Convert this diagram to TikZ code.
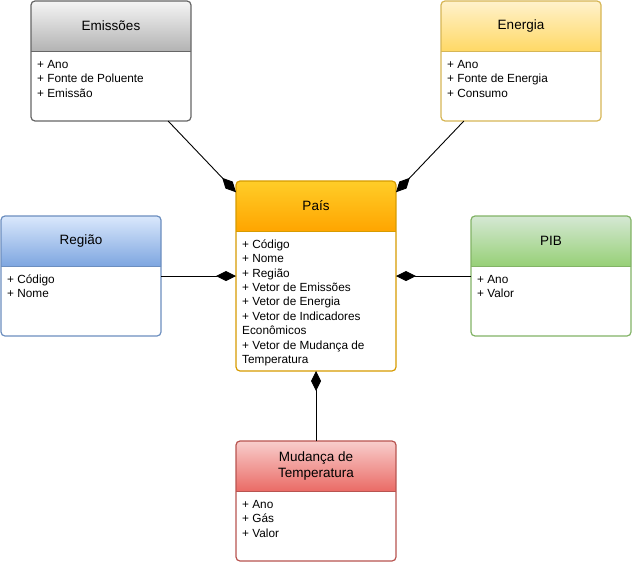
\documentclass[tikz,border=0pt]{standalone}
\usepackage{fontspec}
\setmainfont{Liberation Sans}
\usetikzlibrary{arrows.meta,positioning,calc}

\definecolor{emisTop}{HTML}{F5F5F5}
\definecolor{emisBot}{HTML}{B3B3B3}
\definecolor{emisLine}{HTML}{666666}
\definecolor{enerTop}{HTML}{FFF2CC}
\definecolor{enerBot}{HTML}{FFD966}
\definecolor{enerLine}{HTML}{D6B656}
\definecolor{paisTop}{HTML}{FFCD28}
\definecolor{paisBot}{HTML}{FFA500}
\definecolor{paisLine}{HTML}{D79B00}
\definecolor{regTop}{HTML}{DAE8FC}
\definecolor{regBot}{HTML}{7EA6E0}
\definecolor{regLine}{HTML}{6C8EBF}
\definecolor{pibTop}{HTML}{D5E8D4}
\definecolor{pibBot}{HTML}{97D077}
\definecolor{pibLine}{HTML}{82B366}
\definecolor{tempTop}{HTML}{F8CECC}
\definecolor{tempBot}{HTML}{EA6B66}
\definecolor{tempLine}{HTML}{B85450}

\begin{document}
\begin{tikzpicture}[
  x=1pt, y=-1pt,
  cls/.style={inner sep=0pt, outer sep=0pt, minimum width=160pt},
  ttl/.style={font=\fontsize{13.5}{15.5}\selectfont, align=center, inner sep=0pt},
  attr/.style={font=\fontsize{11.8}{14.4}\selectfont, align=left, inner sep=0pt, anchor=north west},
  comp/.style={-{Diamond[length=20pt, width=10pt]}, line width=0.9pt}
]
\useasboundingbox (0,0) rectangle (632,562);

% classes
\node[cls, minimum height=120pt] (emissoes) at (111,61) {};
\node[cls, minimum height=120pt] (energia) at (521,61) {};
\node[cls, minimum height=190pt] (pais) at (316,276) {};
\node[cls, minimum height=120pt] (regiao) at (81,276) {};
\node[cls, minimum height=120pt] (pib) at (551,276) {};
\node[cls, minimum height=120pt] (mudanca) at (316,501) {};

% headers and borders
\foreach \c/\t/\b/\l in {emissoes/emisTop/emisBot/emisLine, energia/enerTop/enerBot/enerLine,
  pais/paisTop/paisBot/paisLine, regiao/regTop/regBot/regLine,
  pib/pibTop/pibBot/pibLine, mudanca/tempTop/tempBot/tempLine}{
  \fill[white, rounded corners=4pt] (\c.north west) rectangle (\c.south east);
  \begin{scope}
    \clip[rounded corners=4pt] (\c.north west) rectangle (\c.south east);
    \shade[top color=\t, bottom color=\b] (\c.north west) rectangle ([yshift=-50pt]\c.north east);
  \end{scope}
  \draw[\l, line width=1pt] ([yshift=-50pt]\c.north west) -- ([yshift=-50pt]\c.north east);
  \draw[\l, line width=1.2pt, rounded corners=4pt] (\c.north west) rectangle (\c.south east);
}

% titles
\node[ttl] (emissoes-t) at ([yshift=-25pt]emissoes.north) {Emissões};
\node[ttl] (energia-t) at ([yshift=-25pt]energia.north) {Energia};
\node[ttl] (pais-t) at ([yshift=-25pt]pais.north) {País};
\node[ttl] (regiao-t) at ([yshift=-25pt]regiao.north) {Região};
\node[ttl] (pib-t) at ([yshift=-25pt]pib.north) {PIB};
\node[ttl] (mudanca-t) at ([yshift=-25pt]mudanca.north) {Mudança de\\Temperatura};

% attributes
\node[attr] (emissoes-a) at ([xshift=6pt, yshift=-57pt]emissoes.north west)
  {\strut+ Ano\\+ Fonte de Poluente\\+ Emissão};
\node[attr] (energia-a) at ([xshift=6pt, yshift=-57pt]energia.north west)
  {\strut+ Ano\\+ Fonte de Energia\\+ Consumo};
\node[attr] (pais-a) at ([xshift=6pt, yshift=-57pt]pais.north west)
  {\strut+ Código\\+ Nome\\+ Região\\+ Vetor de Emissões\\+ Vetor de Energia\\+ Vetor de Indicadores\\Econômicos\\+ Vetor de Mudança de\\Temperatura};
\node[attr] (regiao-a) at ([xshift=6pt, yshift=-57pt]regiao.north west)
  {\strut+ Código\\+ Nome};
\node[attr] (pib-a) at ([xshift=6pt, yshift=-57pt]pib.north west)
  {\strut+ Ano\\+ Valor};
\node[attr] (mudanca-a) at ([xshift=6pt, yshift=-57pt]mudanca.north west)
  {\strut+ Ano\\+ Gás\\+ Valor};

% compositions
\draw[comp] (emissoes) -- (pais);
\draw[comp] (energia) -- (pais);
\draw[comp] (regiao) -- (pais);
\draw[comp] (pib) -- (pais);
\draw[comp] (mudanca) -- (pais);
\end{tikzpicture}
\end{document}
